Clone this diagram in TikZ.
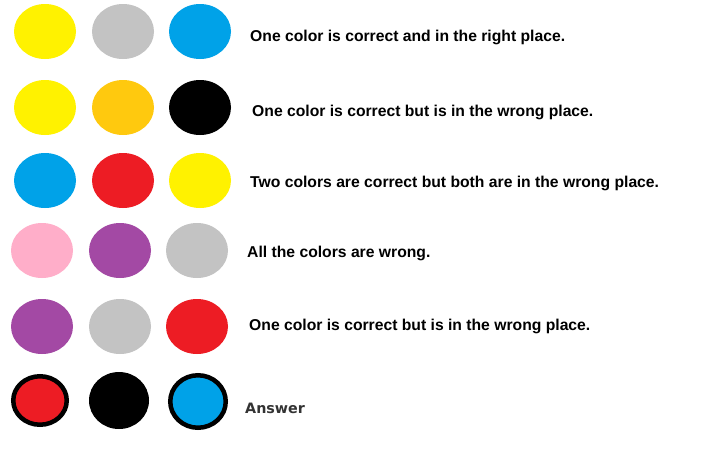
\documentclass[tikz,border=0pt]{standalone}
\usepackage{fontspec}
\setmainfont{Liberation Sans}
\newfontfamily\ansfont{DejaVu Sans}
\usetikzlibrary{shapes.geometric}
\definecolor{pyellow}{HTML}{FFF200}
\definecolor{pgray}{HTML}{C3C3C3}
\definecolor{pblue}{HTML}{00A2E8}
\definecolor{porange}{HTML}{FFC90E}
\definecolor{pred}{HTML}{ED1C24}
\definecolor{ppink}{HTML}{FFAEC9}
\definecolor{ppurple}{HTML}{A349A4}
\definecolor{ansgray}{HTML}{333333}
\tikzset{
  peg/.style={ellipse, draw=none, inner sep=0pt, minimum width=62pt, minimum height=55pt, fill=#1},
  ans/.style={ellipse, draw=black, line width=4.5pt, inner sep=0pt, fill=#1},
  clue/.style={anchor=base west, inner sep=0pt, font=\bfseries\fontsize{15.7pt}{18pt}\selectfont}
}
\begin{document}
\begin{tikzpicture}[x=1pt,y=-1pt]
\fill[white] (0,0) rectangle (718,448);
\useasboundingbox (0,0) rectangle (718,448);
% row 1
\node[peg=pyellow] (a1) at (45,31.5) {};
\node[peg=pgray] (a2) at (123,31.5) {};
\node[peg=pblue] (a3) at (200,31.5) {};
\node[clue] (t1) at (250,41.5) {One color is correct and in the right place.};
% row 2
\node[peg=pyellow] (b1) at (45,107.5) {};
\node[peg=porange] (b2) at (123,107.5) {};
\node[peg=black] (b3) at (200,107.5) {};
\node[clue] (t2) at (252,116) {One color is correct but is in the wrong place.};
% row 3
\node[peg=pblue] (c1) at (45,180.5) {};
\node[peg=pred] (c2) at (123,180.5) {};
\node[peg=pyellow] (c3) at (200,180.5) {};
\node[clue] (t3) at (250,187.5) {Two colors are correct but both are in the wrong place.};
% row 4
\node[peg=ppink] (d1) at (42,250.5) {};
\node[peg=ppurple] (d2) at (120,250.5) {};
\node[peg=pgray] (d3) at (197,250.5) {};
\node[clue] (t4) at (247,257) {All the colors are wrong.};
% row 5
\node[peg=ppurple] (e1) at (42,326.5) {};
\node[peg=pgray] (e2) at (120,326.5) {};
\node[peg=pred] (e3) at (197,326.5) {};
\node[clue] (t5) at (249,330) {One color is correct but is in the wrong place.};
% answer row
\node[ans=pred, minimum width=53.5pt, minimum height=48.5pt] (f1) at (40,400.5) {};
\node[peg=black, minimum width=60pt, minimum height=57pt] (f2) at (119,400.5) {};
\node[ans=pblue, minimum width=55.5pt, minimum height=52.5pt] (f3) at (198,401.5) {};
\node[anchor=base west, inner sep=0pt, text=ansgray, font=\ansfont\bfseries\fontsize{14.3pt}{16pt}\selectfont] (ans) at (245,413) {Answer};
\end{tikzpicture}
\end{document}
